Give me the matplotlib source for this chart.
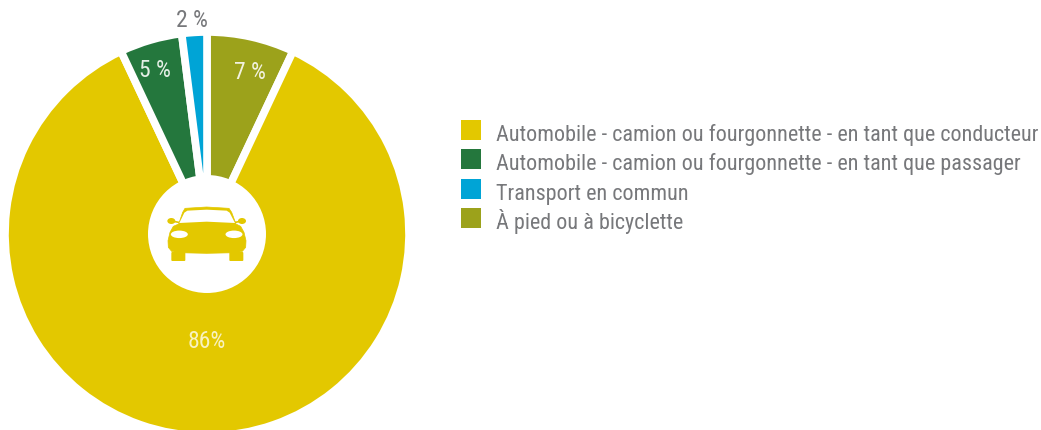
#!/usr/bin/python3
import numpy as np
import matplotlib
matplotlib.use('Agg')
import matplotlib.pyplot as plt
from matplotlib.patches import Circle, Ellipse, FancyBboxPatch, PathPatch, Rectangle
from matplotlib.path import Path

plt.rcParams['font.family'] = ['Roboto Condensed', 'DejaVu Sans']
plt.rcParams['font.weight'] = 400

# clockwise from the top
values = [7, 86, 5, 2]
value_labels = ['7 %', '86%', '5 %', '2 %']
colors = ['#9CA21B', '#E3C800', '#24773D', '#00A4D6']
label_colors = ['#F2F2E0', '#F8F2C0', '#E4EFE6', '#77787B']
label_dist = [0.83, 0.525, 0.86, 1.065]
label_nudge = [(6, -2), (0, -1), (-4, -3), (-2, -1)]

legend_labels = ['Automobile - camion ou fourgonnette - en tant que conducteur',
                 'Automobile - camion ou fourgonnette - en tant que passager',
                 'Transport en commun',
                 'À pied ou à bicyclette']
legend_colors = ['#E3C800', '#24773D', '#00A4D6', '#9CA21B']
legend_y = [141, 170, 200, 229]

CX, CY, R = 207, 196, 202
YELLOW = '#E3C800'
GREY = '#77787B'


def icon(x, y):
    # zoom crop coordinates of the car to figure pixels
    return 130 + x / 3, 431 - (170 + y / 3)


def draw_car(ax):
    ax.add_patch(Circle((CX, CY), 59, fc='white', ec='none', zorder=3))
    body = [(146, 165), (158, 130), (165, 118), (230, 114), (297, 118), (305, 130), (318, 165),
            (332, 172), (342, 190), (348, 215), (347, 235), (337, 247), (320, 251), (230, 253),
            (142, 251), (125, 247), (115, 235), (114, 215), (120, 190), (130, 172), (146, 165)]
    ax.add_patch(PathPatch(Path([icon(*p) for p in body], closed=True), fc=YELLOW, ec=YELLOW,
                           lw=0.5, joinstyle='round', zorder=4))
    glass = [(148, 162), (163, 131), (172, 125), (230, 122), (290, 125), (299, 131),
             (315, 162), (230, 158), (148, 162)]
    ax.add_patch(PathPatch(Path([icon(*p) for p in glass], closed=True), fc='white', ec='none', zorder=5))
    for x, arm in ((124, 146), (336, 316)):
        ax.add_patch(Ellipse(icon(x, 156), 8, 6, fc=YELLOW, ec='none', zorder=4))
        ax.plot(*zip(icon(x, 156), icon(arm, 160)), color=YELLOW, lw=1.2, zorder=4)
    for x in (148, 312):
        ax.add_patch(Ellipse(icon(x, 196), 17, 7.5, fc='white', ec='none', zorder=5))
    for x in (124, 298):
        x0, y0 = icon(x, 276)
        ax.add_patch(FancyBboxPatch((x0 + 1, y0 + 1), 12, 7, boxstyle='round,pad=1', fc=YELLOW, ec='none', zorder=4))


def main():
    fig = plt.figure(figsize=(10.41, 4.31), dpi=100)
    ax = fig.add_axes([0, 0, 1, 1])
    wedges, _ = ax.pie(values, colors=colors, startangle=90, counterclock=False,
                       center=(CX, CY), radius=R, wedgeprops={'edgecolor': 'white', 'linewidth': 5.5})
    for w, label, col, d, (dx, dy) in zip(wedges, value_labels, label_colors, label_dist, label_nudge):
        th = np.deg2rad((w.theta1 + w.theta2) / 2)
        ax.text(CX + R * d * np.cos(th) + dx, CY + 1 + R * d * np.sin(th) + dy, label,
                color=col, fontsize=17, ha='center', va='center', zorder=6)
    draw_car(ax)
    for label, col, y in zip(legend_labels, legend_colors, legend_y):
        ax.add_patch(Rectangle((461, 431 - y), 20, 20, fc=col, ec='none'))
        ax.text(496, 431 - y, label, color=GREY, fontsize=15.9, va='baseline')
    ax.set_xlim(0, 1041)
    ax.set_ylim(0, 431)
    ax.set_aspect('equal')
    ax.axis('off')
    fig.savefig('out.png', dpi=100)


if __name__ == '__main__':
    main()
